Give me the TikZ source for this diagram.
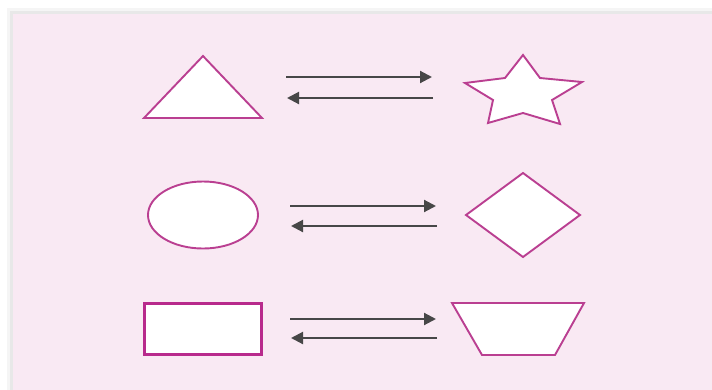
\documentclass[tikz,border=0pt]{standalone}
\usetikzlibrary{arrows.meta,shapes.geometric}
\definecolor{panelpink}{HTML}{F9E9F3}
\definecolor{shapeline}{HTML}{BA3F91}
\definecolor{boxline}{HTML}{B82A8C}
\definecolor{arrowgray}{HTML}{474747}
\begin{document}
\begin{tikzpicture}[x=1pt,y=-1pt,
        figure/.style={draw=shapeline, fill=white, line width=1.9pt, line join=miter},
        swap/.style={draw=arrowgray, line width=2.1pt, -{Triangle[length=12pt,width=12pt]}}]
    \useasboundingbox (0,0) rectangle (712,389);
    % panel with a soft shadow
    \fill[black!4] (7,8) rectangle (713,390);
    \fill[black!9] (10,11) rectangle (713,390);
    \fill[panelpink] (13,14) rectangle (713,390);
    % left column
    \draw[figure] (203,56) -- (262,118) -- (144,118) -- cycle;
    \node[figure, ellipse, minimum width=110pt, minimum height=67pt, inner sep=0pt] (oval) at (203,215) {};
    \node[figure, draw=boxline, line width=2.2pt, rectangle, minimum width=117pt, minimum height=51pt, inner sep=0pt] (box) at (203,329) {};
    % right column
    \draw[figure] (523,55) -- (540,78) -- (582,82) -- (552,100) -- (560,124) -- (523,113)
        -- (488,123) -- (493,100) -- (465,83) -- (505,78) -- cycle;
    \draw[figure] (523,173) -- (580,215) -- (523,257) -- (466,215) -- cycle;
    \draw[figure] (452,303) -- (584,303) -- (555,355) -- (482,355) -- cycle;
    % arrow ends, one pair per row
    \foreach \row/\yt/\yb/\xs in {1/77/98/-4, 2/206/226/0, 3/319/338/0} {
        \coordinate (go\row) at (290+\xs,\yt);
        \coordinate (to\row) at (436+\xs,\yt);
        \coordinate (back\row) at (437+\xs,\yb);
        \coordinate (home\row) at (291+\xs,\yb);
    }
    \foreach \row in {1,2,3} {
        \draw[swap] (go\row) -- (to\row);
        \draw[swap] (back\row) -- (home\row);
    }
\end{tikzpicture}
\end{document}
